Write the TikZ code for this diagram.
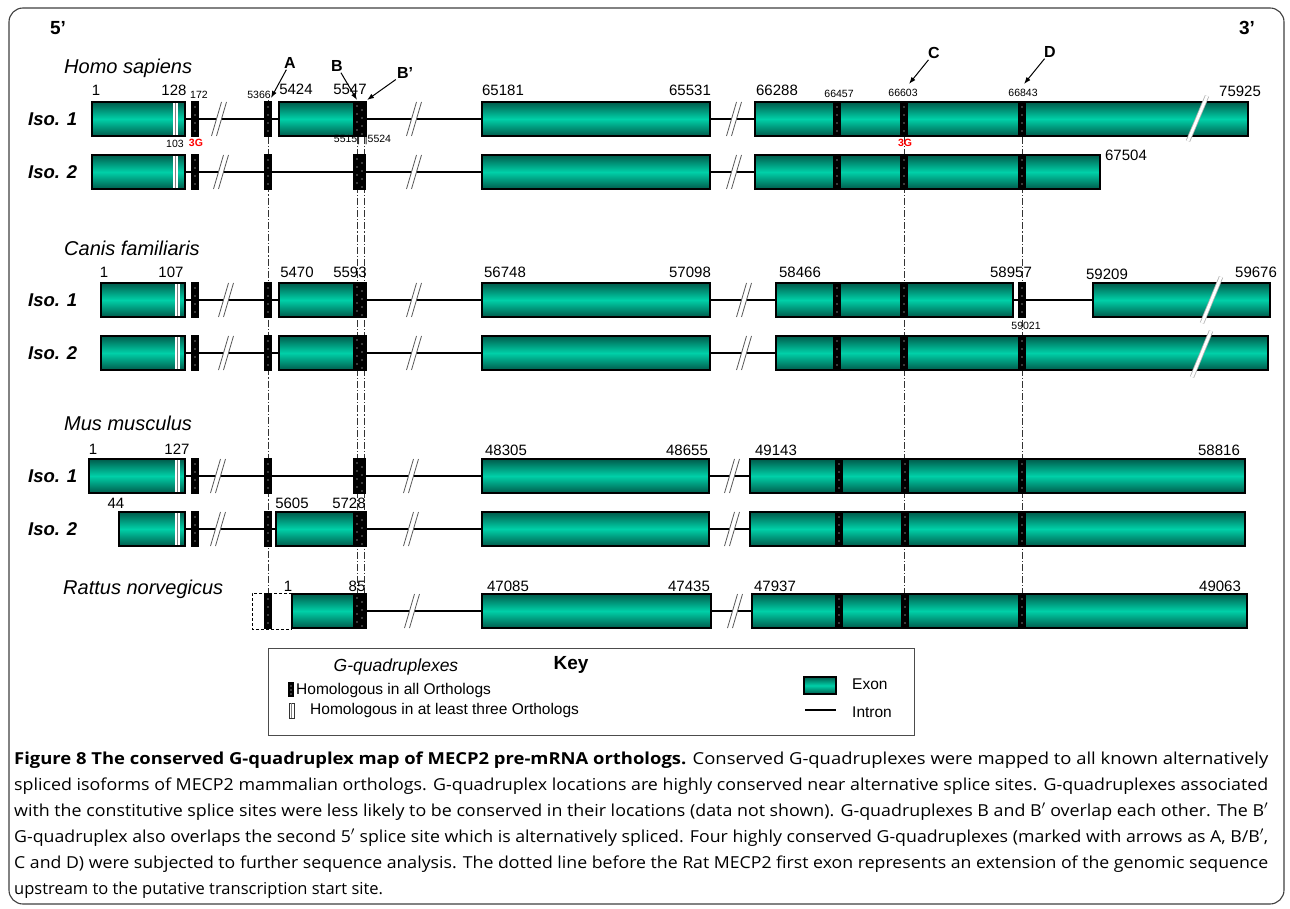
\documentclass[tikz,border=0pt]{standalone}
\usepackage{fontspec}
\setmainfont{Liberation Sans}
\newfontfamily\capfont{Open Sans}
\usepackage{graphicx}
\usetikzlibrary{arrows.meta}
\definecolor{exlight}{RGB}{0,208,168}
\definecolor{exdark}{RGB}{0,92,76}
\newcommand\exon[3]{%
  \shade[top color=exdark,bottom color=exdark,middle color=exlight] ({#1},{#3-17}) rectangle ({#2},{#3+17});
  \draw[line width=2.8] ({#1},{#3-17}) rectangle ({#2},{#3+17});}
\newcommand\gqn[2]{%
  \fill ({#1},{#2-18.4}) rectangle ({#1+8},{#2+18.4});
  \foreach \gy in {-12,-4,4,12} \fill[white] ({#1+4},{#2+\gy}) circle (0.6);}
\newcommand\gqw[2]{%
  \fill ({#1},{#2-18.4}) rectangle ({#1+13},{#2+18.4});
  \foreach \gy in {-13,-5,3,11} \fill[white] ({#1+4},{#2+\gy}) circle (0.6);
  \foreach \gy in {-9,-1,7,15} \fill[white] ({#1+9},{#2+\gy}) circle (0.6);}
\newcommand\bars[2]{%
  \fill[white] ({#1},{#2-15.6}) rectangle ({#1+5},{#2+15.6});
  \draw[gray, line width=0.9] ({#1+2.5},{#2-15.6}) -- ({#1+2.5},{#2+15.6});}
\newcommand\intron[3]{\draw[line width=2.8] ({#1},{#3}) -- ({#2},{#3});}
\newcommand\brk[2]{%
  \draw[white, line width=4.5] ({#1-5},{#2+16}) -- ({#1+5},{#2-16});
  \draw[black!65, line width=0.8] ({#1-7.5},{#2+17}) -- ({#1+2.5},{#2-17});
  \draw[black!65, line width=0.8] ({#1-2.5},{#2+17}) -- ({#1+7.5},{#2-17});}
\newcommand\eslash[4]{%
  \draw[gray!60, line width=4.4] (#1,#2) -- (#3,#4);
  \draw[white, line width=2.8] (#1,#2) -- (#3,#4);}
\newcommand\capfs{\capfont\fontsize{16.5}{16.5}\selectfont}
\begin{document}
\begin{tikzpicture}[x=1pt,y=-1pt,
  num/.style={font=\fontsize{15}{15}\selectfont, inner sep=0pt},
  sm/.style={font=\fontsize{10.5}{10.5}\selectfont, inner sep=0pt},
  red3g/.style={font=\fontsize{10.5}{10.5}\selectfont\bfseries, text=red, inner sep=0pt},
  species/.style={font=\fontsize{20}{20}\selectfont\itshape, anchor=west, inner sep=0pt},
  iso/.style={font=\fontsize{18.5}{18.5}\selectfont\bfseries\itshape, anchor=west, inner sep=0pt},
  letter/.style={font=\fontsize{16}{16}\selectfont\bfseries, inner sep=1pt},
  arr/.style={-{Latex[length=7pt,width=5pt]}, line width=1},
  ddash/.style={gray!40!black, line width=0.7, dash pattern=on 7pt off 2pt on 1.2pt off 2pt},
  keytext/.style={font=\fontsize{15.5}{15.5}\selectfont, anchor=west, inner sep=0pt},
  captext/.style={anchor=base west, inner sep=0pt}]
\useasboundingbox (0,0) rectangle (1290,909);
\fill[white] (0,0) rectangle (1290,909);
% frame
\draw[line width=1.1, black!75, rounded corners=14] (9,8) rectangle (1284,904);
\node[font=\fontsize{19}{19}\selectfont\bfseries, inner sep=0] (p5) at (58,28) {5’};
\node[font=\fontsize{19}{19}\selectfont\bfseries, inner sep=0] (p3) at (1247,28) {3’};
% vertical guide lines
\draw[ddash] (268,100) -- (268,611);
\draw[ddash] (357.5,137) -- (357.5,611);
\draw[ddash] (364.5,137) -- (364.5,611);
\draw[ddash] (904,137) -- (904,611);
\draw[ddash] (1022,137) -- (1022,611);
% species labels
\node[species] (sHomo) at (64,68) {Homo sapiens};
\node[species] (sCanis) at (64,248) {Canis familiaris};
\node[species] (sMus) at (64,423) {Mus musculus};
\node[species] (sRat) at (63,589) {Rattus norvegicus};
\foreach \yy/\nm/\tx in {119/i1/Iso. 1,172/i2/Iso. 2,300/i3/Iso. 1,353/i4/Iso. 2,476/i5/Iso. 1,529/i6/Iso. 2}
  \node[iso] (\nm) at (28,\yy) {\tx};
% ---------- Homo iso 1
\intron{185}{755}{119}
\exon{92}{185}{119} \bars{173}{119}
\gqn{191}{119} \brk{219}{119} \gqn{264}{119}
\exon{279}{366}{119} \gqw{353}{119}
\brk{414}{119}
\exon{482}{710}{119}
\brk{734}{119}
\exon{755}{1248}{119} \gqn{833}{119} \gqn{900}{119} \gqn{1018}{119}
\eslash{1188}{141}{1207}{96}
% ---------- Homo iso 2
\intron{185}{755}{172}
\exon{92}{185}{172} \bars{173}{172}
\gqn{191}{172} \brk{221}{172} \gqn{264}{172}
\gqw{353}{172}
\brk{414}{172}
\exon{482}{710}{172}
\brk{734}{172}
\exon{755}{1100}{172} \gqn{833}{172} \gqn{900}{172} \gqn{1018}{172}
% ---------- Canis iso 1
\intron{185}{1093}{300}
\exon{101}{185}{300} \bars{175}{300}
\gqn{191}{300} \brk{226}{300} \gqn{264}{300}
\exon{279}{366}{300} \gqw{353}{300}
\brk{414}{300}
\exon{482}{710}{300}
\brk{744}{300}
\exon{776}{1013}{300} \gqn{833}{300} \gqn{900}{300}
\gqn{1018}{300}
\exon{1093}{1270}{300}
\eslash{1202}{323}{1221}{277}
% ---------- Canis iso 2
\intron{185}{776}{353}
\exon{101}{185}{353} \bars{175}{353}
\gqn{191}{353} \brk{226}{353} \gqn{264}{353}
\exon{279}{366}{353} \gqw{353}{353}
\brk{414}{353}
\exon{482}{710}{353}
\brk{744}{353}
\exon{776}{1268}{353} \gqn{833}{353} \gqn{900}{353} \gqn{1018}{353}
\eslash{1192}{377}{1211}{331}
% ---------- Mus iso 1
\intron{185}{750}{476}
\exon{89}{185}{476} \bars{175}{476}
\gqn{191}{476} \brk{218}{476} \gqn{264}{476}
\gqw{353}{476}
\brk{411}{476}
\exon{482}{709}{476}
\brk{732}{476}
\exon{750}{1245}{476} \gqn{835}{476} \gqn{901}{476} \gqn{1018}{476}
% ---------- Mus iso 2
\intron{185}{750}{529}
\exon{119}{185}{529} \bars{175}{529}
\gqn{191}{529} \brk{218}{529} \gqn{264}{529}
\exon{276}{366}{529} \gqw{353}{529}
\brk{411}{529}
\exon{482}{709}{529}
\brk{732}{529}
\exon{750}{1245}{529} \gqn{835}{529} \gqn{901}{529} \gqn{1018}{529}
% ---------- Rat
\draw[line width=0.8, dash pattern=on 3pt off 2pt] (292,593) -- (252,593) -- (252,629) -- (292,629);
\gqn{264}{611}
\intron{366}{752}{611}
\exon{292}{366}{611} \gqw{353}{611}
\brk{412}{611}
\exon{482}{711}{611}
\brk{735}{611}
\exon{752}{1247}{611} \gqn{835}{611} \gqn{901}{611} \gqn{1018}{611}
% ---------- numbers Homo
\node[num] (h1) at (96,90) {1};
\node[num] (h128) at (174,90) {128};
\node[sm] (h172) at (199,95) {172};
\node[sm] (h103) at (175,144) {103};
\node[red3g] (h3ga) at (196,143) {3G};
\node[sm] (h5366) at (259,95) {5366};
\node[num] (h5424) at (296,89) {5424};
\node[num] (h5547) at (350,89) {5547};
\node[sm] (h5515) at (347,140) {5515|};
\node[sm] (h5524) at (378,140) {|5524};
\node[num] (h65181) at (503,90) {65181};
\node[num] (h65531) at (690,90) {65531};
\node[num] (h66288) at (777,90) {66288};
\node[sm] (h66457) at (839,94) {66457};
\node[sm] (h66603) at (903,93) {66603};
\node[sm] (h66843) at (1023,93) {66843};
\node[num] (h75925) at (1240,91) {75925};
\node[red3g] (h3gb) at (905,143) {3G};
\node[num] (h67504) at (1126,155) {67504};
% arrows
\node[letter] (lA) at (290,63) {A};
\node[letter] (lB) at (337,66) {B};
\node[letter] (lBp) at (405,73) {B’};
\node[letter] (lC) at (934,53) {C};
\node[letter] (lD) at (1050,52) {D};
\coordinate (tA) at (271,98);
\coordinate (tB) at (357,100);
\coordinate (tBp) at (367,100);
\coordinate (tC) at (909,84);
\coordinate (tD) at (1024,84);
\draw[arr] (lA) -- (tA);
\draw[arr] (lB) -- (tB);
\draw[arr] (lBp) -- (tBp);
\draw[arr] (lC) -- (tC);
\draw[arr] (lD) -- (tD);
% ---------- numbers Canis
\node[num] (c1) at (104,272) {1};
\node[num] (c107) at (171,272) {107};
\node[num] (c5470) at (297,272) {5470};
\node[num] (c5593) at (350,272) {5593};
\node[num] (c56748) at (505,272) {56748};
\node[num] (c57098) at (690,272) {57098};
\node[num] (c58466) at (800,272) {58466};
\node[num] (c58957) at (1011,272) {58957};
\node[sm] (c59021) at (1026,326) {59021};
\node[num] (c59209) at (1107,274) {59209};
\node[num] (c59676) at (1256,272) {59676};
% ---------- numbers Mus
\node[num] (m1) at (93,449) {1};
\node[num] (m127) at (177,449) {127};
\node[num] (m44) at (116,503) {44};
\node[num] (m5605) at (292,503) {5605};
\node[num] (m5728) at (349,503) {5728};
\node[num] (m48305) at (506,450) {48305};
\node[num] (m48655) at (687,450) {48655};
\node[num] (m49143) at (776,450) {49143};
\node[num] (m58816) at (1219,450) {58816};
% ---------- numbers Rat
\node[num] (r1) at (288,586) {1};
\node[num] (r85) at (357,586) {85};
\node[num] (r47085) at (508,586) {47085};
\node[num] (r47435) at (689,586) {47435};
\node[num] (r47937) at (775,586) {47937};
\node[num] (r49063) at (1220,586) {49063};
% ---------- key
\draw[line width=0.9, black!70] (268,648) rectangle (914,735);
\node[font=\fontsize{17.5}{17.5}\selectfont\itshape, inner sep=0] (kG) at (396,667) {G-quadruplexes};
\node[font=\fontsize{19}{19}\selectfont\bfseries, inner sep=0] (kKey) at (571,665) {Key};
\fill (288,682) rectangle (294,697);
\foreach \gy in {686,690,694} \fill[white] (291,\gy) circle (0.6);
\node[keytext] (kAll) at (296,690) {Homologous in all Orthologs};
\draw[line width=0.8, black!80] (289,703) rectangle (294,718);
\draw[line width=0.7, gray] (291.5,703) -- (291.5,718);
\node[keytext] (kThree) at (310,710) {Homologous in at least three Orthologs};
\shade[top color=exdark,bottom color=exdark,middle color=exlight] (804,677) rectangle (836,694);
\draw[line width=2.4] (804,677) rectangle (836,694);
\node[keytext] (kExon) at (852,684) {Exon};
\draw[line width=2.8] (805,710) -- (836,710);
\node[keytext] (kIntron) at (852,712) {Intron};
% ---------- caption
\node[captext] (cap1) at (14,764) {\resizebox{1254pt}{\height}{\capfs\textbf{Figure 8 The conserved G-quadruplex map of MECP2 pre-mRNA orthologs.} Conserved G-quadruplexes were mapped to all known alternatively}};
\node[captext] (cap2) at (14,790) {\resizebox{1254pt}{\height}{\capfs spliced isoforms of MECP2 mammalian orthologs. G-quadruplex locations are highly conserved near alternative splice sites. G-quadruplexes associated}};
\node[captext] (cap3) at (14,816) {\resizebox{1254pt}{\height}{\capfs with the constitutive splice sites were less likely to be conserved in their locations (data not shown). G-quadruplexes B and B\ensuremath{'} overlap each other. The B\ensuremath{'}}};
\node[captext] (cap4) at (14,842) {\resizebox{1254pt}{\height}{\capfs G-quadruplex also overlaps the second 5\ensuremath{'} splice site which is alternatively spliced. Four highly conserved G-quadruplexes (marked with arrows as A, B/B\ensuremath{'},}};
\node[captext] (cap5) at (14,868) {\resizebox{1254pt}{\height}{\capfs C and D) were subjected to further sequence analysis. The dotted line before the Rat MECP2 first exon represents an extension of the genomic sequence}};
\node[captext] (cap6) at (14,894) {\capfs upstream to the putative transcription start site.};
\end{tikzpicture}
\end{document}
